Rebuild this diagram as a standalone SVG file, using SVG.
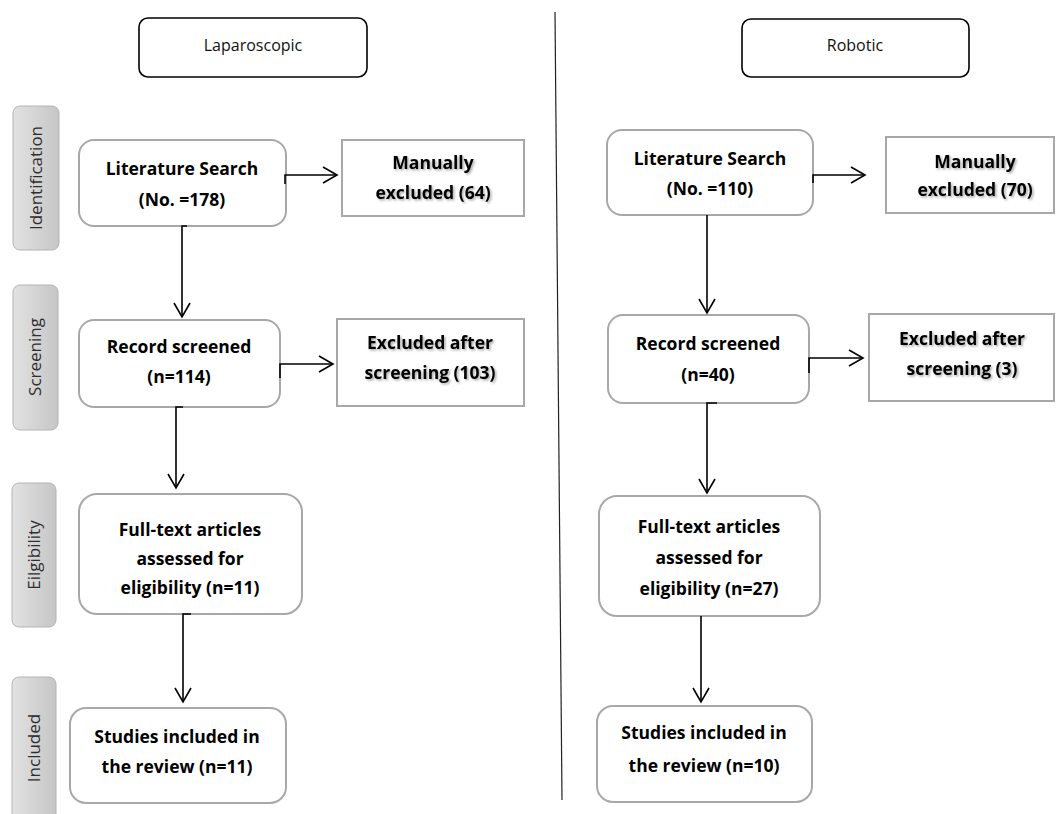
<svg xmlns="http://www.w3.org/2000/svg" width="1056" height="814" viewBox="0 0 1056 814">
<defs>
<linearGradient id="side" x1="0" y1="0" x2="1" y2="0">
<stop offset="0" stop-color="#e2e2e2"/>
<stop offset="1" stop-color="#c6c6c6"/>
</linearGradient>
<marker id="arr" markerUnits="userSpaceOnUse" markerWidth="18" markerHeight="18" refX="14" refY="8" orient="auto" viewBox="-1 -1 18 18">
<path d="M0,0 L14,8 L0,16" fill="none" stroke="#000" stroke-width="1.6"/>
</marker>
<filter id="tsh" x="-10%" y="-20%" width="130%" height="150%">
<feDropShadow dx="1.5" dy="1.5" stdDeviation="1" flood-color="#000" flood-opacity="0.35"/>
</filter>
</defs>
<style>
.hdr{fill:#fff;stroke:#000;stroke-width:1.6}
.node{fill:#fff;stroke:#a8a8a8;stroke-width:2}
.excl{fill:#fff;stroke:#a8a8a8;stroke-width:2}
.side{fill:url(#side);stroke:#b4b4b4;stroke-width:1}
.t{font-family:"Open Sans","Liberation Sans",sans-serif;font-weight:bold;font-size:17.5px;fill:#000;text-anchor:middle}
.ts{filter:url(#tsh)}
.h{font-family:"Open Sans","Liberation Sans",sans-serif;font-size:16px;fill:#111;text-anchor:middle}
.s{font-family:"Open Sans","Liberation Sans",sans-serif;font-size:17px;fill:#2e2e2e;text-anchor:middle}
.c{fill:none;stroke:#000;stroke-width:1.6}
</style>

<line x1="555" y1="12" x2="562" y2="800" stroke="#222" stroke-width="1.2"/>

<g id="side-identification"><rect class="side" x="13" y="106" width="46" height="144" rx="7"/><text class="s" transform="translate(42,178) rotate(-90)">Identification</text></g>
<g id="side-screening"><rect class="side" x="13" y="285" width="45" height="145" rx="7"/><text class="s" transform="translate(41,357) rotate(-90)">Screening</text></g>
<g id="side-eligibility"><rect class="side" x="12" y="483" width="44" height="144" rx="7"/><text class="s" transform="translate(40,555) rotate(-90)">Eilgibility</text></g>
<g id="side-included"><rect class="side" x="12" y="677" width="44" height="150" rx="7"/><text class="s" transform="translate(40,748) rotate(-90)">Included</text></g>

<g id="hdr-lap"><rect class="hdr" x="139" y="18" width="228" height="59" rx="9"/><text class="h" x="253" y="51">Laparoscopic</text></g>
<g id="hdr-rob"><rect class="hdr" x="742" y="19" width="227" height="58" rx="9"/><text class="h" x="855" y="51">Robotic</text></g>

<g id="l-lit"><rect class="node" x="79" y="140" width="207" height="86" rx="15"/><text class="t" x="182" y="175">Literature Search</text><text class="t" x="182" y="206">(No. =178)</text></g>
<g id="l-man"><rect class="excl" x="342" y="140" width="182" height="76"/><text class="t ts" x="433" y="169">Manually</text><text class="t ts" x="433" y="199">excluded (64)</text></g>
<g id="l-rec"><rect class="node" x="79" y="320" width="201" height="87" rx="15"/><text class="t" x="179" y="353">Record screened</text><text class="t" x="179" y="383">(n=114)</text></g>
<g id="l-exc"><rect class="excl" x="337" y="319" width="187" height="87"/><text class="t ts" x="430" y="349">Excluded after</text><text class="t ts" x="430" y="379">screening (103)</text></g>
<g id="l-full"><rect class="node" x="79" y="494" width="223" height="120" rx="18"/><text class="t" x="190" y="536">Full-text articles</text><text class="t" x="190" y="565">assessed for</text><text class="t" x="190" y="594">eligibility (n=11)</text></g>
<g id="l-stud"><rect class="node" x="70" y="708" width="216" height="95" rx="16"/><text class="t" x="177" y="743">Studies included in</text><text class="t" x="177" y="773">the review (n=11)</text></g>

<g id="r-lit"><rect class="node" x="607" y="130" width="206" height="85" rx="15"/><text class="t" x="710" y="165">Literature Search</text><text class="t" x="710" y="195">(No. =110)</text></g>
<g id="r-man"><rect class="excl" x="886" y="137" width="168" height="76"/><text class="t ts" x="975" y="168">Manually</text><text class="t ts" x="975" y="196">excluded (70)</text></g>
<g id="r-rec"><rect class="node" x="608" y="315" width="201" height="88" rx="15"/><text class="t" x="708" y="350">Record screened</text><text class="t" x="708" y="381">(n=40)</text></g>
<g id="r-exc"><rect class="excl" x="869" y="314" width="185" height="87"/><text class="t ts" x="962" y="345">Excluded after</text><text class="t ts" x="962" y="375">screening (3)</text></g>
<g id="r-full"><rect class="node" x="599" y="496" width="221" height="120" rx="18"/><text class="t" x="709" y="533">Full-text articles</text><text class="t" x="709" y="564">assessed for</text><text class="t" x="709" y="595">eligibility (n=27)</text></g>
<g id="r-stud"><rect class="node" x="597" y="706" width="215" height="96" rx="16"/><text class="t" x="704" y="739">Studies included in</text><text class="t" x="704" y="772">the review (n=10)</text></g>

<g id="connectors">
<path class="c" d="M285,184 V175 H337" marker-end="url(#arr)"/>
<path class="c" d="M187,226 H182 V317" marker-end="url(#arr)"/>
<path class="c" d="M280,378 V364 H333" marker-end="url(#arr)"/>
<path class="c" d="M183,407 H176 V488" marker-end="url(#arr)"/>
<path class="c" d="M191,614 H183 V702" marker-end="url(#arr)"/>
<path class="c" d="M813,183 V175 H865" marker-end="url(#arr)"/>
<path class="c" d="M707,215 V313" marker-end="url(#arr)"/>
<path class="c" d="M809,373 V358 H863" marker-end="url(#arr)"/>
<path class="c" d="M717,403 H707 V493" marker-end="url(#arr)"/>
<path class="c" d="M701,616 V702" marker-end="url(#arr)"/>
</g>
</svg>
